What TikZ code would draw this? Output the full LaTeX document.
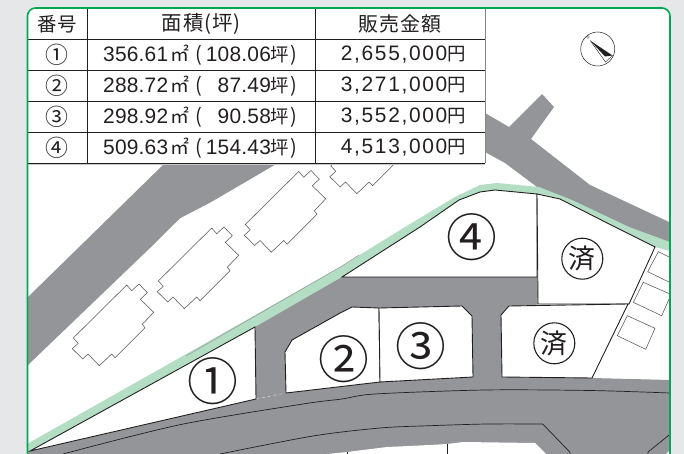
\documentclass[tikz,border=0pt]{standalone}
\usepackage{fontspec}
\setmainfont{Liberation Sans}
\newfontfamily\cjk{Noto Sans CJK JP}
\newfontfamily\cjkwide[LetterSpace=4]{Noto Sans CJK JP}
\newfontfamily\numf[LetterSpace=1]{Liberation Sans}
\newfontfamily\numw[LetterSpace=8]{Liberation Sans}
\newcommand{\arearow}[2]{\fontsize{21}{21}\selectfont\makebox[67bp][l]{\numf #1}\makebox[25bp][l]{\cjk\fontsize{19}{19}\selectfont ㎡}{\cjk\fontsize{20}{20}\selectfont (}\makebox[69bp][r]{\numf #2}{\cjk\fontsize{18.5}{18.5}\selectfont 坪\kern1bp\fontsize{20}{20}\selectfont )}}
\newcommand{\pricerow}[1]{\fontsize{21}{21}\selectfont{\numw #1}{\cjk\fontsize{18.5}{18.5}\selectfont 円}}
\definecolor{ink}{HTML}{231F20}
\definecolor{roadgray}{HTML}{939598}
\definecolor{pagegray}{HTML}{E6E7E8}
\definecolor{frame}{HTML}{00A651}
\definecolor{strip}{HTML}{B3DEC4}
\tikzset{
  road/.style={fill=roadgray,draw=none},
  lot/.style={fill=white,draw=ink,line width=0.9pt,line join=miter},
  bldg/.style={draw=ink!75,line width=0.55pt,fill=white},
  park/.style={draw=ink!75,line width=0.55pt},
  rline/.style={draw=ink,line width=0.7pt},
  tline/.style={draw=ink,line width=0.8pt},
  cell/.style={inner sep=0pt,text=ink},
  lotnum/.style={inner sep=0pt,text=ink},
  sold/.style={circle,draw=ink,line width=1.1pt,minimum size=41bp,inner sep=0pt,text=ink,font=\cjk\fontsize{27}{27}\selectfont},
}
\newcommand{\bshape}{(126.7,285)--(131.7,290.7)--(139,284)--(147.3,292.7)--(140.3,299.3)--(153.7,312.3)--(142.3,324.3)--(145,327.7)--(115,357.7)--(111.7,354)--(99.3,365.7)--(88,354)--(82.7,359)--(72.3,348.7)--(78.3,343.3)--(73.3,338)--cycle}
\begin{document}
\begin{tikzpicture}[x=1bp,y=-1bp]
\useasboundingbox (0,0) rectangle (684,454);
\fill[pagegray] (0,0) rectangle (684,454);
\fill[white,rounded corners=8bp] (27.5,8) -- (670,8) -- (670,470) -- (27.5,470) -- cycle;
\begin{scope}
\clip (27.5,0) rectangle (669.5,454);
% roads behind the lots
\fill[road] (28,297)--(165,163)--(278,163)--(210,202.7)--(180,218.3)--(150,248)--(28,365)--cycle;
\fill[road] (485,113)--(509,127)--(542,94)--(554,107)--(531,139)--(590,185)--(669,222)--(669,250)--(629,232)--(572,205)--(537,187)--(505,163)--(485,152)--cycle;
% green strip
\fill[strip] (27,444)--(342,266)--(405,227)--(455,197)--(480,185)--(497,183)--(539,187)--(572,200)--(629,227)--(670,242)--(670,251)--(655,247)--(615,227)--(560,199)--(537,194)--(495,190)--(480,192)--(459,200)--(420,227)--(342,277)--(255,327)--(28,452)--cycle;
\draw[roadgray,line width=0.5pt] (186,356)--(342,266)--(359,255);
% road around lots
\fill[road] (255,327)--(342,277)--(537,277)--(538,304)--(510,320)--(510,385)--(256,405)--cycle;
\fill[road] (30,451)--(256,399)--(286,393)--(380,382)--(473,377)--(502,377)--(592,378)--(670,380)--(670,454)--(27,454)--cycle;
\draw[white!70!roadgray,dashed,line width=0.4pt] (256,399)--(286,393);
% road lines and white block below
\fill[white] (327,454)--(347,452)--(387,447)--(430,445)--(447,444)--(463,442)--(535,443)--(546,454)--cycle;
\fill[white] (666,454)--(670,450)--(670,454)--cycle;
\draw[rline] plot[smooth] coordinates {(63,454)(180,424.7)(303,404)(342,399)(375,394)(485,390)(590,390.5)(670,393)};
\draw[rline] plot[smooth] coordinates {(220,454)(313,436)(380,428)(430,425.7)(487,424)(542.7,424)} -- (570,452.3) -- (570,454);
\draw[rline] (648,454)--(648,452)--(669.5,434.7);
\draw[ink,line width=0.5pt] (347.3,452)--(347.3,454) (447,444)--(447,454);
% lots
\draw[lot] (30,451)--(255,327)--(256,399)--cycle;
\draw[lot] (285,352)--(292,340)--(342,312)--(352,307)--(379,308)--(380,382)--(286,393)--cycle;
\draw[lot] (379,308)--(462,306)--(472,316)--(473,377)--(380,382)--cycle;
\draw[lot] (342,277)--(420,227)--(459,200)--(480,192)--(495,190)--(537,194)--(537,277)--cycle;
\draw[lot] (537,194)--(560,199)--(615,227)--(655,247)--(629,304)--(538,304)--cycle;
\draw[lot] (509,306)--(628,304)--(592,378)--(502,377)--(501,315)--cycle;
% buildings
\draw[bldg] \bshape;
\begin{scope}[shift={(85,-57)}]\draw[bldg] \bshape;\end{scope}
\begin{scope}[shift={(172,-113.5)}]\draw[bldg] \bshape;\end{scope}
\begin{scope}[shift={(257.5,-172)}]\draw[bldg] \bshape;\end{scope}
% parking
\draw[park] (670,257.5)--(658.3,251.7)--(647.7,271.7)--(670,282.5);
\draw[park] (670,294)--(643.3,282.3)--(633.3,302.3)--(661.7,315.7)--(670,297);
\draw[park] (627.3,315.7)--(655,328.3)--(645.7,349.3)--(617.3,335.7)--cycle;
\end{scope}
% compass
\draw[ink,line width=0.5pt] (597.7,49) circle (17bp);
\fill[ink] (590.3,40.7)--(612.5,55.5)--(605,56.5)--cycle;
\draw[ink,line width=0.4pt] (590.3,40.7)--(605.5,62)--(612.5,55.5);
\node[inner sep=0pt,rotate=-42,text=ink,font=\fontsize{4}{4}\selectfont] (north) at (588,37.5) {N};
% table
\fill[white] (28,9) rectangle (485,163);
\draw[ink!55,line width=0.8pt] (485,9)--(485,163.4);
\draw[ink!25,line width=0.7pt] (28,164.2)--(485,164.2);
\draw[tline] (87,9)--(87,163) (315,9)--(315,163);
\foreach \y in {39.5,70.5,101.5,132,163} \draw[tline] (28,\y)--(485,\y);
\node[cell,font=\cjkwide\fontsize{19.5}{19.5}\selectfont] (hno) at (57,24) {番号};
\node[cell,font=\cjkwide\fontsize{20.5}{20.5}\selectfont] (harea) at (201,24) {面積(坪)};
\node[cell,font=\cjkwide\fontsize{20}{20}\selectfont] (hprice) at (400,24) {販売金額};
\node[cell,font=\cjk\fontsize{23}{23}\selectfont] (n1) at (57,55) {①};
\node[cell,font=\cjk\fontsize{23}{23}\selectfont] (n2) at (57,86) {②};
\node[cell,font=\cjk\fontsize{23}{23}\selectfont] (n3) at (57,117) {③};
\node[cell,font=\cjk\fontsize{23}{23}\selectfont] (n4) at (57,148) {④};
\node[cell,anchor=west] (a1) at (103,55) {\arearow{356.61}{108.06}};
\node[cell,anchor=west] (a2) at (103,86) {\arearow{288.72}{87.49}};
\node[cell,anchor=west] (a3) at (103,117) {\arearow{298.92}{90.58}};
\node[cell,anchor=west] (a4) at (103,148) {\arearow{509.63}{154.43}};
\node[cell,anchor=east] (p1) at (466,55) {\pricerow{2,655,000}};
\node[cell,anchor=east] (p2) at (466,86) {\pricerow{3,271,000}};
\node[cell,anchor=east] (p3) at (466,117) {\pricerow{3,552,000}};
\node[cell,anchor=east] (p4) at (466,148) {\pricerow{4,513,000}};
% lot labels
\node[lotnum,font=\cjk\fontsize{51}{51}\selectfont] (l1) at (213,380.7) {①};
\node[lotnum,font=\cjk\fontsize{51}{51}\selectfont] (l2) at (343.7,358.7) {②};
\node[lotnum,font=\cjk\fontsize{51}{51}\selectfont] (l3) at (421.3,346) {③};
\node[lotnum,font=\cjk\fontsize{51}{51}\selectfont] (l4) at (472,237) {④};
\node[sold] (s1) at (582.3,258.7) {済};
\node[sold] (s2) at (554.3,343.3) {済};
% frame
\draw[frame,line width=1.6pt,rounded corners=8bp] (27.5,470)--(27.5,8)--(670,8)--(670,470);
\end{tikzpicture}
\end{document}
